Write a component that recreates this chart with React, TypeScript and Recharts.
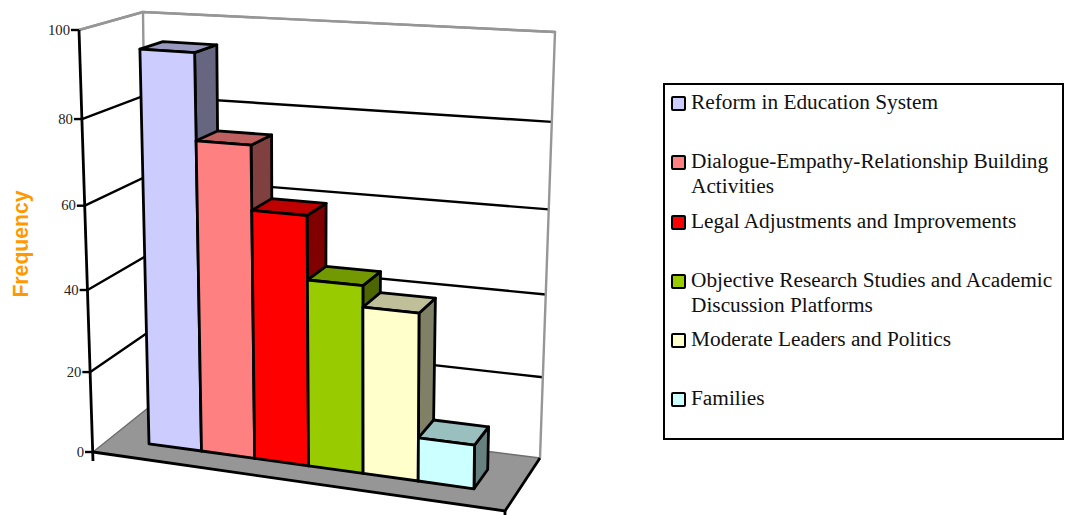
import { Bar, BarChart, CartesianGrid, Legend, XAxis, YAxis } from "recharts";

const seriesNames = [
  "Reform in Education System",
  "Dialogue-Empathy-Relationship Building Activities",
  "Legal Adjustments and Improvements",
  "Objective Research Studies and Academic Discussion Platforms",
  "Moderate Leaders and Politics",
  "Families",
];
const seriesValues = [95, 75, 60, 45, 40, 10.5];
const seriesColors = ["#ccccff", "#ff8080", "#ff0000", "#99cc00", "#ffffcc", "#ccffff"];
const valueTicks = [0, 20, 40, 60, 80, 100];

const row: Record<string, number | string> = { group: "Frequency" };
seriesNames.forEach((_, i) => {
  row[`s${i}`] = seriesValues[i];
});
const rows = [row];

type Pt = [number, number];

// plot rectangle handed to recharts; its scales get unwrapped back to 0..1 below
const PLOT = { left: 93, top: 30, width: 412, height: 422 };

// corners of the box: front-left, front-right, back-right, back-left
const FLOOR: Pt[] = [[93, 452], [505, 511], [540, 458], [148, 408]];
const CEILING: Pt[] = [[79, 30], [507, 58], [555, 32], [143, 12]];
const BAR_DEPTH = [0.31, 0.68];
const HEIGHT_BEND = 1.07;
const WIDTH_BEND = 0.045;
const EDGE = 2.8;

function onQuad(q: Pt[], u: number, w: number): Pt {
  const lerp = (a: number, b: number, t: number) => a + (b - a) * t;
  const front: Pt = [lerp(q[0][0], q[1][0], u), lerp(q[0][1], q[1][1], u)];
  const back: Pt = [lerp(q[3][0], q[2][0], u), lerp(q[3][1], q[2][1], u)];
  return [lerp(front[0], back[0], w), lerp(front[1], back[1], w)];
}

// u runs along the categories, w into the depth, v up the value axis
function project(u: number, w: number, v: number): Pt {
  const t = v / (v + (1 - v) * HEIGHT_BEND);
  const s = u - WIDTH_BEND * u * (1 - u);
  const [bx, by] = onQuad(FLOOR, s, w);
  const [tx, ty] = onQuad(CEILING, s, w);
  return [bx + (tx - bx) * t, by + (ty - by) * t];
}

const toU = (x: number) => (x - PLOT.left) / PLOT.width;
const toV = (y: number) => (PLOT.top + PLOT.height - y) / PLOT.height;
const pts = (list: Pt[]) => list.map((p) => `${p[0].toFixed(1)},${p[1].toFixed(1)}`).join(" ");

function shade(hex: string, k: number) {
  const n = parseInt(hex.slice(1), 16);
  const c = [(n >> 16) & 255, (n >> 8) & 255, n & 255].map((ch) => Math.round(ch * k));
  return `rgb(${c.join(",")})`;
}

function BoxShape(props: any) {
  const { x, y, width, height, fill } = props;
  const u0 = toU(x);
  const u1 = toU(x + width);
  const vTop = toV(y);
  const vBase = toV(y + height);
  const [w0, w1] = BAR_DEPTH;
  const edge = { stroke: "#000", strokeWidth: EDGE, strokeLinejoin: "round" as const };
  return (
    <g>
      <polygon
        points={pts([project(u1, w0, vBase), project(u1, w1, vBase), project(u1, w1, vTop), project(u1, w0, vTop)])}
        fill={shade(fill, 0.5)}
        {...edge}
      />
      <polygon
        points={pts([project(u0, w0, vTop), project(u1, w0, vTop), project(u1, w1, vTop), project(u0, w1, vTop)])}
        fill={shade(fill, 0.75)}
        {...edge}
      />
      <polygon
        points={pts([project(u0, w0, vBase), project(u1, w0, vBase), project(u1, w0, vTop), project(u0, w0, vTop)])}
        fill={fill}
        {...edge}
      />
    </g>
  );
}

// walls and floor of the box, drawn behind everything else
function Room() {
  const wall = { stroke: "#969696", strokeWidth: 2.4, fill: "none" };
  const [fl, fr, br, bl] = FLOOR;
  const [axisTop, , ceilBr, ceilBl] = CEILING;
  return (
    <g>
      <polygon points={pts(FLOOR)} fill="#969696" />
      <polyline points={pts([fl, bl, br])} stroke="#6e6e6e" strokeWidth={1.5} fill="none" />
      <polyline points={pts([bl, ceilBl, ceilBr, br])} {...wall} />
      <line x1={axisTop[0]} y1={axisTop[1]} x2={ceilBl[0]} y2={ceilBl[1]} {...wall} />
      <polyline points={pts([fl, fr, br])} stroke="#000" strokeWidth={EDGE} fill="none" />
      <line x1={fr[0]} y1={fr[1]} x2={fr[0]} y2={fr[1] + 5} stroke="#000" strokeWidth={EDGE} />
      <line x1={axisTop[0]} y1={axisTop[1]} x2={fl[0]} y2={fl[1] + 9} stroke="#000" strokeWidth={EDGE} />
      <text
        x={28}
        y={244}
        transform="rotate(-90 28 244)"
        textAnchor="middle"
        fontFamily="Liberation Sans"
        fontWeight="bold"
        fontSize={21.2}
        fill="#ff9900"
      >
        Frequency
      </text>
    </g>
  );
}

function WallLine(props: any) {
  const v = toV(props.y1);
  if (v < 0.01) return null;
  const stroke = v > 0.99 ? "#969696" : "#000";
  return (
    <polyline
      points={pts([project(0, 0, v), project(0, 1, v), project(1, 1, v)])}
      stroke={stroke}
      strokeWidth={2.4}
      fill="none"
    />
  );
}

function ValueTick(props: any) {
  const { y, payload } = props;
  const [px, py] = project(0, 0, toV(y));
  return (
    <g>
      <line x1={px - 8} y1={py} x2={px} y2={py} stroke="#000" strokeWidth={2.4} />
      <text
        x={px - 9}
        y={py}
        dy={4.5}
        textAnchor="end"
        fontFamily="Liberation Serif"
        fontSize={14.7}
        fill="#222"
      >
        {payload.value}
      </text>
    </g>
  );
}

function LegendBox(props: any) {
  const items = props.payload || [];
  return (
    <div
      style={{
        boxSizing: "border-box",
        width: 401,
        height: 357,
        border: "2px solid #000",
        background: "#fff",
        fontFamily: "Liberation Serif",
        fontSize: 21.33,
        lineHeight: "25px",
        color: "#111",
        paddingTop: 5,
      }}
    >
      {items.map((item: any) => (
        <div key={item.value} style={{ position: "relative", height: 59.3, paddingLeft: 26, paddingRight: 1 }}>
          <span
            style={{
              position: "absolute",
              left: 6,
              top: 6,
              width: 11,
              height: 11,
              border: "2px solid #000",
              borderRadius: 2,
              background: item.color,
            }}
          />
          {item.value}
        </div>
      ))}
    </div>
  );
}

export default function App() {
  return (
    <div style={{ position: "absolute", left: 0, top: 0 }}>
      <BarChart
        width={1065}
        height={515}
        data={rows}
        margin={{ left: PLOT.left - 1, top: PLOT.top, right: 1065 - PLOT.left - PLOT.width, bottom: 515 - PLOT.top - PLOT.height }}
        barCategoryGap="10%"
        barGap={0}
      >
        <Room />
        <CartesianGrid vertical={false} horizontal={(p: any) => <WallLine key={p.key} {...p} />} />
        <XAxis dataKey="group" hide />
        <YAxis
          width={1}
          domain={[0, 100]}
          ticks={valueTicks}
          interval={0}
          axisLine={false}
          tickLine={false}
          tick={(p: any) => <ValueTick key={p.index} {...p} />}
        />
        <Legend
          layout="vertical"
          align="center"
          verticalAlign="middle"
          itemSorter={null}
          wrapperStyle={{ left: 663, top: 83, width: 401 }}
          content={(p: any) => <LegendBox {...p} />}
        />
        {seriesNames.map((name, i) => (
          <Bar
            key={name}
            dataKey={`s${i}`}
            name={name}
            fill={seriesColors[i]}
            shape={(p: any) => <BoxShape {...p} />}
            isAnimationActive={false}
          />
        ))}
      </BarChart>
    </div>
  );
}
